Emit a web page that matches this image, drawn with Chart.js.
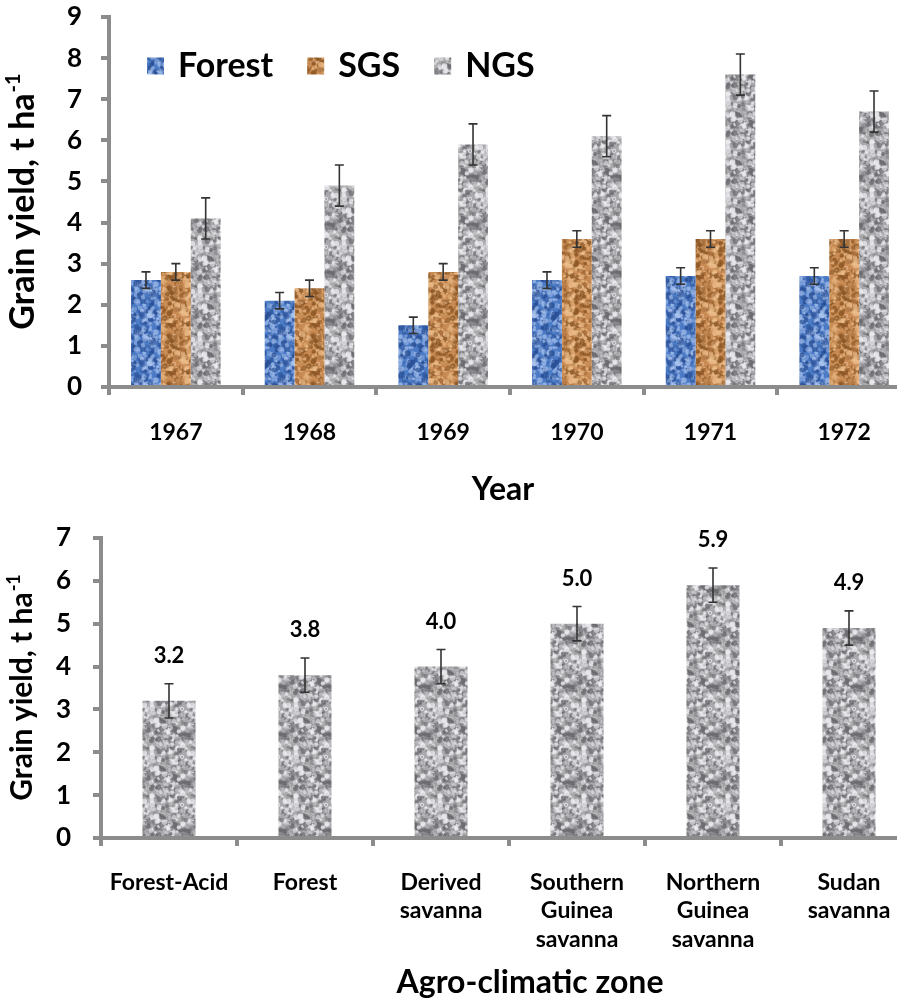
<!DOCTYPE html>
<html>
<head>
<meta charset="utf-8">
<script src="https://cdn.jsdelivr.net/npm/chart.js@4.4.0/dist/chart.umd.min.js"></script>
<style>
  html, body { margin: 0; padding: 0; background: #fff; overflow: hidden; }
  #wrap { position: relative; width: 897px; height: 1005px; overflow: hidden; }
  #wrap canvas { position: absolute; left: 0; }
  #yearChart { top: 0; }
  #zoneChart { top: 510px; }
</style>
</head>
<body>
<div id="wrap">
  <canvas id="yearChart" width="915" height="510"></canvas>
  <canvas id="zoneChart" width="921" height="495"></canvas>
</div>
<script>
// Grain yield per year for three zones
const years = ['1967', '1968', '1969', '1970', '1971', '1972'];
const forestYield = [2.6, 2.1, 1.5, 2.6, 2.7, 2.7];
const sgsYield = [2.8, 2.4, 2.8, 3.6, 3.6, 3.6];
const ngsYield = [4.1, 4.9, 5.9, 6.1, 7.6, 6.7];
const forestErr = [0.2, 0.2, 0.2, 0.2, 0.2, 0.2];
const sgsErr = [0.2, 0.2, 0.2, 0.2, 0.2, 0.2];
const ngsErr = [0.5, 0.5, 0.5, 0.5, 0.5, 0.5];

// Mean grain yield per agro-climatic zone
const zones = [['Forest-Acid'], ['Forest'], ['Derived', 'savanna'], ['Southern', 'Guinea', 'savanna'], ['Northern', 'Guinea', 'savanna'], ['Sudan', 'savanna']];
const zoneYield = [3.2, 3.8, 4.0, 5.0, 5.9, 4.9];
const zoneErr = [0.4, 0.4, 0.4, 0.4, 0.4, 0.4];

const FONT = 'Lato';
const AXIS_GREY = '#8c8c8c';

// small seeded generator so the textures come out the same every time
function mulberry32(a) {
  return function() {
    a |= 0; a = a + 0x6D2B79F5 | 0;
    let t = Math.imul(a ^ a >>> 15, 1 | a);
    t = t + Math.imul(t ^ t >>> 7, 61 | t) ^ t;
    return ((t ^ t >>> 14) >>> 0) / 4294967296;
  };
}

// mottled "granite" fill used for the bars
function granite(base, dark, light, seed) {
  const size = 48;
  const c = document.createElement('canvas');
  c.width = c.height = size;
  const g = c.getContext('2d');
  g.fillStyle = base;
  g.fillRect(0, 0, size, size);
  const rnd = mulberry32(seed);
  for (let i = 0; i < 300; i++) {
    const x = rnd() * size, y = rnd() * size, r = 0.8 + rnd() * 2.2;
    g.fillStyle = rnd() < 0.5 ? dark : light;
    g.globalAlpha = 0.3 + rnd() * 0.5;
    for (const dx of [-size, 0, size]) {
      for (const dy of [-size, 0, size]) {
        g.beginPath();
        g.arc(x + dx, y + dy, r, 0, Math.PI * 2);
        g.fill();
      }
    }
  }
  return g.createPattern(c, 'repeat');
}

const forestFill = granite('#4c7bc6', '#274c92', '#a9c3ee', 11);
const sgsFill = granite('#c98c55', '#8a5524', '#eec08e', 23);
const greyFill = granite('#a9a9ac', '#66666b', '#eeeef2', 37);

// error bars drawn from each dataset's `errors` array
const errorBars = {
  id: 'errorBars',
  afterDatasetsDraw(chart, args, opts) {
    const ctx = chart.ctx;
    const y = chart.scales.y;
    const cap = opts.cap || 5;
    chart.data.datasets.forEach((ds, i) => {
      if (!ds.errors) return;
      chart.getDatasetMeta(i).data.forEach((bar, j) => {
        const top = y.getPixelForValue(ds.data[j] + ds.errors[j]);
        const bot = y.getPixelForValue(ds.data[j] - ds.errors[j]);
        ctx.save();
        ctx.strokeStyle = '#333';
        ctx.lineWidth = 1.6;
        ctx.beginPath();
        ctx.moveTo(bar.x, top); ctx.lineTo(bar.x, bot);
        ctx.moveTo(bar.x - cap, top); ctx.lineTo(bar.x + cap, top);
        ctx.moveTo(bar.x - cap, bot); ctx.lineTo(bar.x + cap, bot);
        ctx.stroke();
        ctx.restore();
      });
    });
  }
};

// axis titles: rotated y title with superscript unit, x title below the labels
const axisTitles = {
  id: 'axisTitles',
  afterDraw(chart, args, opts) {
    const ctx = chart.ctx;
    const area = chart.chartArea;
    const main = 'Grain yield, t ha';
    const sup = '-1';
    const supSize = Math.round(opts.ySize * 0.6);
    ctx.save();
    ctx.fillStyle = '#000';
    ctx.translate(opts.yX, (area.top + area.bottom) / 2);
    ctx.rotate(-Math.PI / 2);
    ctx.textBaseline = 'alphabetic';
    ctx.textAlign = 'left';
    ctx.font = `bold ${opts.ySize}px ${FONT}`;
    const w1 = ctx.measureText(main).width;
    ctx.font = `bold ${supSize}px ${FONT}`;
    const w2 = ctx.measureText(sup).width;
    const start = -(w1 + w2) / 2;
    ctx.font = `bold ${opts.ySize}px ${FONT}`;
    ctx.fillText(main, start, 0);
    ctx.font = `bold ${supSize}px ${FONT}`;
    ctx.fillText(sup, start + w1 + 1, -opts.ySize * 0.4);
    ctx.restore();

    ctx.save();
    ctx.fillStyle = '#000';
    ctx.font = `bold ${opts.xSize}px ${FONT}`;
    ctx.textAlign = 'center';
    ctx.textBaseline = 'middle';
    ctx.fillText(opts.xText, opts.xCenter, chart.height - opts.xFromBottom);
    ctx.restore();
  }
};

// legend laid out in a row inside the plot area
const rowLegend = {
  id: 'rowLegend',
  afterDraw(chart, args, opts) {
    if (!opts.display) return;
    const ctx = chart.ctx;
    let x = opts.x;
    ctx.save();
    ctx.font = `bold ${opts.size}px ${FONT}`;
    ctx.textBaseline = 'middle';
    chart.data.datasets.forEach(ds => {
      ctx.fillStyle = ds.backgroundColor;
      ctx.fillRect(x, opts.y - opts.box / 2, opts.box, opts.box);
      x += opts.box + opts.gap;
      ctx.fillStyle = '#000';
      ctx.fillText(ds.label, x, opts.y);
      x += ctx.measureText(ds.label).width + opts.spacing;
    });
    ctx.restore();
  }
};

// value printed above each error bar
const valueLabels = {
  id: 'valueLabels',
  afterDatasetsDraw(chart, args, opts) {
    if (!opts.display) return;
    const ctx = chart.ctx;
    const y = chart.scales.y;
    const ds = chart.data.datasets[0];
    ctx.save();
    ctx.font = `bold ${opts.size}px ${FONT}`;
    ctx.fillStyle = '#000';
    ctx.textAlign = 'center';
    ctx.textBaseline = 'middle';
    chart.getDatasetMeta(0).data.forEach((bar, j) => {
      const top = y.getPixelForValue(ds.data[j] + ds.errors[j]);
      ctx.fillText(ds.data[j].toFixed(1), bar.x, top - opts.offset);
    });
    ctx.restore();
  }
};

function axisStyle(tickLen) {
  return {
    border: { display: true, color: AXIS_GREY, width: 4 },
    grid: { display: true, drawOnChartArea: false, drawTicks: true, tickLength: tickLen, color: AXIS_GREY, lineWidth: 4 }
  };
}

// keep label overhang from shrinking the plot area
function fixSize(prop, value) {
  return s => {
    s[prop] = value;
    s.paddingTop = 0; s.paddingBottom = 0;
    s.paddingLeft = 0; s.paddingRight = 0;
  };
}

Chart.defaults.font.family = FONT;
Chart.defaults.color = '#000';

new Chart(document.getElementById('yearChart'), {
  type: 'bar',
  data: {
    labels: years,
    datasets: [
      { label: 'Forest', data: forestYield, errors: forestErr, backgroundColor: forestFill },
      { label: 'SGS', data: sgsYield, errors: sgsErr, backgroundColor: sgsFill },
      { label: 'NGS', data: ngsYield, errors: ngsErr, backgroundColor: greyFill }
    ]
  },
  options: {
    responsive: false,
    devicePixelRatio: 1,
    animation: false,
    layout: { padding: { top: 17, right: 4, left: 0, bottom: 0 } },
    datasets: { bar: { categoryPercentage: 0.67, barPercentage: 1.0 } },
    plugins: {
      legend: { display: false },
      tooltip: { enabled: false },
      errorBars: { cap: 4.5 },
      axisTitles: { yX: 34, ySize: 34, xText: 'Year', xSize: 32, xCenter: 503, xFromBottom: 20 },
      rowLegend: { display: true, x: 147, y: 66, box: 17, gap: 14, spacing: 34, size: 34 },
      valueLabels: { display: false }
    },
    scales: {
      x: {
        ...axisStyle(8),
        ticks: { font: { size: 23, weight: 'bold' }, padding: 24, maxRotation: 0, autoSkip: false },
        afterFit: fixSize('height', 123)
      },
      y: {
        ...axisStyle(8),
        min: 0, max: 9,
        ticks: { stepSize: 1, font: { size: 26, weight: 'bold' }, padding: 19 },
        afterFit: fixSize('width', 109)
      }
    }
  },
  plugins: [errorBars, axisTitles, rowLegend, valueLabels]
});

new Chart(document.getElementById('zoneChart'), {
  type: 'bar',
  data: {
    labels: zones,
    datasets: [
      { label: 'Yield', data: zoneYield, errors: zoneErr, backgroundColor: greyFill }
    ]
  },
  options: {
    responsive: false,
    devicePixelRatio: 1,
    animation: false,
    layout: { padding: { top: 28, right: 4, left: 0, bottom: 0 } },
    datasets: { bar: { categoryPercentage: 0.39, barPercentage: 1.0 } },
    plugins: {
      legend: { display: false },
      tooltip: { enabled: false },
      errorBars: { cap: 4.5 },
      axisTitles: { yX: 32, ySize: 30, xText: 'Agro-climatic zone', xSize: 32, xCenter: 530, xFromBottom: 22 },
      rowLegend: { display: false },
      valueLabels: { display: true, size: 22, offset: 28 }
    },
    scales: {
      x: {
        ...axisStyle(8),
        ticks: { font: { size: 23, weight: 'bold', lineHeight: 1.24 }, padding: 22, maxRotation: 0, autoSkip: false },
        afterFit: fixSize('height', 167)
      },
      y: {
        ...axisStyle(8),
        min: 0, max: 7,
        ticks: { stepSize: 1, font: { size: 26, weight: 'bold' }, padding: 22 },
        afterFit: fixSize('width', 101)
      }
    }
  },
  plugins: [errorBars, axisTitles, rowLegend, valueLabels]
});
</script>
</body>
</html>
